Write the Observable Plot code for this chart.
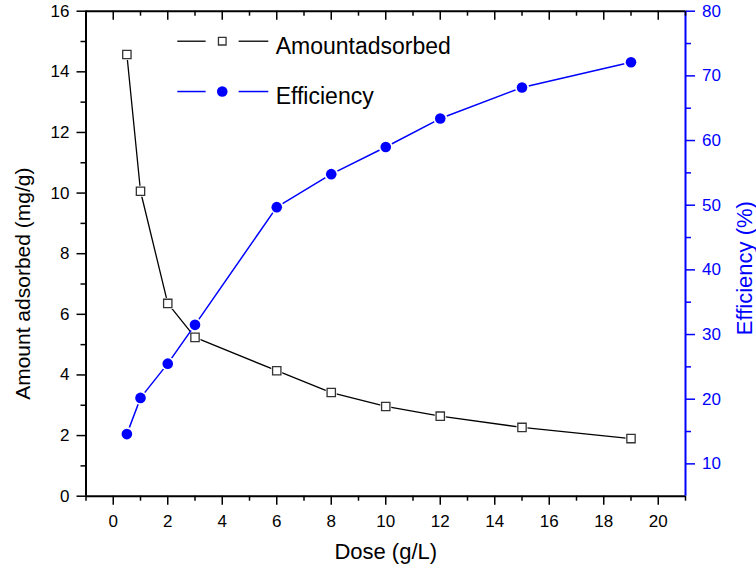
<!DOCTYPE html>
<html>
<head>
<meta charset="utf-8">
<script src="https://cdn.jsdelivr.net/npm/d3@7"></script>
<script src="https://cdn.jsdelivr.net/npm/@observablehq/plot@0.6"></script>
<style>
  html, body { margin: 0; padding: 0; background: #fff; }
  #chart svg { display: block; }
</style>
</head>
<body>
<div id="chart"></div>
<script>
// ---- data ----
const doses = [0.5, 1, 2, 3, 6, 8, 10, 12, 15, 19];
const amountAdsorbed = [14.57, 10.06, 6.36, 5.24, 4.14, 3.42, 2.96, 2.64, 2.27, 1.90];
const efficiency = [14.6, 20.2, 25.5, 31.5, 49.7, 54.8, 59.0, 63.4, 68.2, 72.1];

const xTicks = [0, 2, 4, 6, 8, 10, 12, 14, 16, 18, 20];
const xMinorTicks = [-1, 1, 3, 5, 7, 9, 11, 13, 15, 17, 19, 21];
const yLeftTicks = [0, 2, 4, 6, 8, 10, 12, 14, 16];
const yLeftMinorTicks = [1, 3, 5, 7, 9, 11, 13, 15];
const yRightTicks = [10, 20, 30, 40, 50, 60, 70, 80];
const yRightMinorTicks = [15, 25, 35, 45, 55, 65, 75];

const seriesNames = ["Amountadsorbed", "Efficiency"];
const xLabel = "Dose (g/L)";
const yLeftLabel = "Amount adsorbed (mg/g)";
const yRightLabel = "Efficiency (%)";

// ---- scales ----
const xDomain = [-1, 21];
const yDomain = [0, 16];
const rightDomain = [5, 80];
const toY = e => (e - rightDomain[0]) / (rightDomain[1] - rightDomain[0]) * (yDomain[1] - yDomain[0]) + yDomain[0];
const fromY = y => (y - yDomain[0]) / (yDomain[1] - yDomain[0]) * (rightDomain[1] - rightDomain[0]) + rightDomain[0];

const amountData = doses.map((d, i) => ({x: d, y: amountAdsorbed[i]}));
const effData = doses.map((d, i) => ({x: d, y: toY(efficiency[i])}));

const BLUE = "#0000ff";
const FONT = "'Liberation Sans', Arial, Helvetica, sans-serif";

const W = 756, H = 573;
const mL = 85.5, mR = 71, mT = 10.7, mB = 77.3;
const frameH = H - mT - mB;

// legend placement (data units)
const legendRows = [
  {name: seriesNames[0], y: 15.01, ty: 14.82},
  {name: seriesNames[1], y: 13.35, ty: 13.19}
];
const legX = {a1: 2.35, a2: 3.39, m: 4.0, b1: 4.6, b2: 5.69, t: 5.96};

const chart = Plot.plot({
  width: W,
  height: H,
  marginLeft: mL,
  marginRight: mR,
  marginTop: mT,
  marginBottom: mB,
  style: {fontFamily: FONT, background: "#fff", color: "black"},
  x: {domain: xDomain},
  y: {domain: yDomain},
  marks: [
    // frame
    Plot.ruleY([yDomain[0]], {stroke: "black", strokeWidth: 2}),
    Plot.ruleY([yDomain[1]], {stroke: "black", strokeWidth: 2}),
    Plot.ruleX([xDomain[0]], {stroke: "black", strokeWidth: 2}),
    Plot.ruleX([xDomain[1]], {stroke: BLUE, strokeWidth: 2}),

    // bottom axis
    Plot.axisX({anchor: "bottom", ticks: xTicks, tickSize: 9, tickPadding: 9.5, fontSize: 17, label: null, strokeWidth: 1.5, tickFormat: d => String(d)}),
    Plot.axisX({anchor: "bottom", ticks: xMinorTicks, tickSize: 5, tickFormat: null, text: null, label: null, strokeWidth: 1.5}),
    // top inward ticks
    Plot.ruleX(xTicks, {stroke: "black", strokeWidth: 1.5, insetBottom: frameH - 9}),
    Plot.ruleX(xMinorTicks, {stroke: "black", strokeWidth: 1.5, insetBottom: frameH - 5}),

    // left axis
    Plot.axisY({anchor: "left", ticks: yLeftTicks, tickSize: 9, tickPadding: 7.5, fontSize: 17, label: null, strokeWidth: 1.5, tickFormat: d => String(d)}),
    Plot.axisY({anchor: "left", ticks: yLeftMinorTicks, tickSize: 5, text: null, label: null, strokeWidth: 1.5}),

    // right axis (efficiency)
    Plot.axisY({anchor: "right", ticks: yRightTicks.map(toY), tickSize: 9, tickPadding: 7.5, fontSize: 17, label: null, stroke: BLUE, fill: BLUE, color: BLUE, strokeWidth: 1.5, tickFormat: d => String(Math.round(fromY(d)))}),
    Plot.axisY({anchor: "right", ticks: yRightMinorTicks.map(toY), tickSize: 5, text: null, label: null, stroke: BLUE, strokeWidth: 1.5}),

    // axis titles
    Plot.text([xLabel], {frameAnchor: "bottom", textAnchor: "middle", dy: 62.3, fontSize: 22, fill: "black", text: d => d}),
    Plot.text([yLeftLabel], {frameAnchor: "left", textAnchor: "middle", rotate: -90, dx: -63, dy: 30, fontSize: 21, fill: "black", text: d => d}),
    Plot.text([yRightLabel], {frameAnchor: "right", textAnchor: "middle", rotate: -90, dx: 59.5, dy: 14.5, fontSize: 22, fill: BLUE, text: d => d}),

    // amount adsorbed series
    Plot.line(amountData, {x: "x", y: "y", stroke: "black", strokeWidth: 1.3}),
    Plot.dot(amountData, {x: "x", y: "y", symbol: "square", r: 6.2, fill: "white", stroke: "none"}),
    Plot.dot(amountData, {x: "x", y: "y", symbol: "square", r: 4.7, fill: "white", stroke: "#333", strokeWidth: 1.3}),

    // efficiency series
    Plot.line(effData, {x: "x", y: "y", stroke: BLUE, strokeWidth: 1.5}),
    Plot.dot(effData, {x: "x", y: "y", r: 7, fill: "white", stroke: "none"}),
    Plot.dot(effData, {x: "x", y: "y", r: 5.3, fill: BLUE, stroke: "none"}),

    // legend
    Plot.link([legendRows[0]], {x1: legX.a1, x2: legX.a2, y1: "y", y2: "y", stroke: "black", strokeWidth: 1.3}),
    Plot.link([legendRows[0]], {x1: legX.b1, x2: legX.b2, y1: "y", y2: "y", stroke: "black", strokeWidth: 1.3}),
    Plot.dot([legendRows[0]], {x: legX.m, y: "y", symbol: "square", r: 4.3, fill: "white", stroke: "#333", strokeWidth: 1.3}),
    Plot.link([legendRows[1]], {x1: legX.a1, x2: legX.a2, y1: "y", y2: "y", stroke: BLUE, strokeWidth: 1.5}),
    Plot.link([legendRows[1]], {x1: legX.b1, x2: legX.b2, y1: "y", y2: "y", stroke: BLUE, strokeWidth: 1.5}),
    Plot.dot([legendRows[1]], {x: legX.m, y: "y", r: 5.3, fill: BLUE, stroke: "none"}),
    Plot.text(legendRows, {x: legX.t, y: "ty", text: "name", textAnchor: "start", fontSize: 23, fill: "black"})
  ]
});

document.getElementById("chart").appendChild(chart);
</script>
</body>
</html>
